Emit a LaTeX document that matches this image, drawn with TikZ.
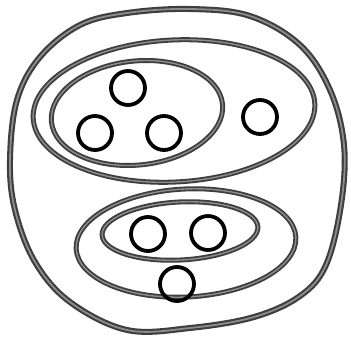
\documentclass[tikz,border=0pt]{standalone}
\usepackage{xcolor}
\usepackage{tikz}
\definecolor{SetEdge}{HTML}{3E3E3E}
\definecolor{SetCore}{HTML}{8C8C8C}

\begin{document}
\begin{tikzpicture}[x=1pt,y=-1pt,
  setline/.style={draw=SetEdge,line width=1.8pt,double=SetCore,double distance=1.4pt},
  outerline/.style={draw=SetEdge,line width=2.1pt,double=SetCore,double distance=1.8pt},
  elem/.style={circle,draw=black,line width=3.8pt,minimum size=34pt,inner sep=0pt}]
\path[use as bounding box] (0,0) rectangle (351,337);
% outer boundary
\draw[outerline] plot[smooth cycle,tension=0.6] coordinates {
  (10,160) (17,100) (40,57) (80,25) (127,13) (190,9) (250,16) (300,45)
  (330,90) (344,145) (341,205) (326,265) (300,296) (254,317) (190,328)
  (127,330) (70,302) (35,262) (15,210)};
% upper sets
\draw[setline,shift={(174,111)},rotate=3] (0,0) ellipse (141 and 71);
\draw[setline,shift={(137,113)},rotate=6] (0,0) ellipse (86 and 52);
% lower sets
\draw[setline,shift={(186,243)},rotate=3] (0,0) ellipse (110 and 54);
\draw[setline,shift={(180,231)},rotate=3] (0,0) ellipse (78 and 29);
% elements
\node[elem] (a1) at (128,88) {};
\node[elem] (a2) at (95,133) {};
\node[elem] (a3) at (164,133) {};
\node[elem] (b1) at (260,117) {};
\node[elem] (c1) at (148,234) {};
\node[elem] (c2) at (208,233) {};
\node[elem] (d1) at (177,284) {};
\end{tikzpicture}
\end{document}
